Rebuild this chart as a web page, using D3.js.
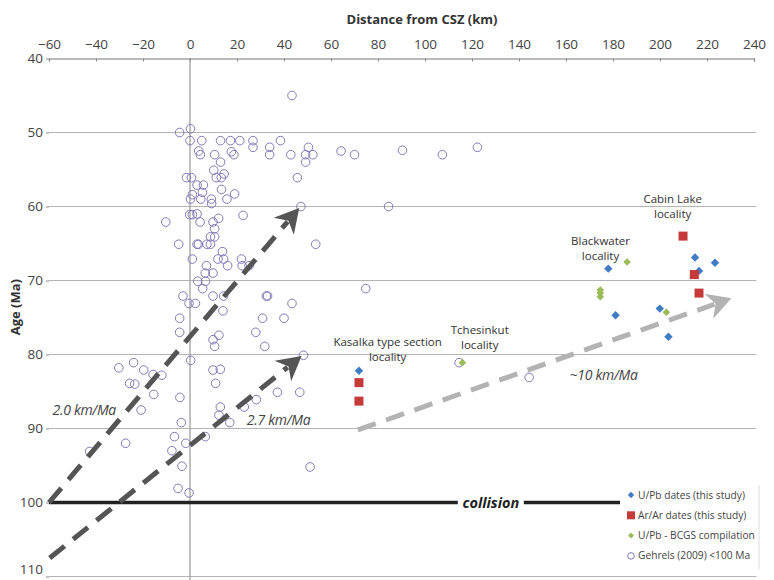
<!DOCTYPE html>
<html>
<head>
<meta charset="utf-8">
<script src="https://cdn.jsdelivr.net/npm/d3@7"></script>
<style>
  body { margin: 0; background: #fff; }
  text { font-family: "Open Sans", "Noto Sans", sans-serif; }
</style>
</head>
<body>
<div id="chart"></div>
<script>
// Gehrels (2009) <100 Ma: [distance km, age Ma]
const gehrels = [
  [43.4, 45.0], [-4.4, 50.0], [0.2, 49.5], [0, 51.1], [5, 51.1], [13, 51.1], [17.2, 51.1],
  [21.2, 51.1], [26.8, 51.1], [26.8, 52.0], [33.9, 52.0], [38.5, 51.1], [33.9, 53.0],
  [42.9, 53.0], [50.4, 52.0], [49.2, 53.0], [52.3, 53.0], [49.2, 54.0], [45.7, 56.1],
  [64.3, 52.5], [70, 53.0], [90.4, 52.4], [107.4, 53.0], [122.3, 52.0], [3.7, 52.5],
  [4.4, 53.0], [10.5, 53.0], [13, 54.0], [17.6, 52.6], [18.7, 53.0], [10.1, 55.1],
  [-1.5, 56.1], [0.6, 56.1], [11.2, 56.1], [13.3, 56.1], [14.5, 55.6], [3, 57.1],
  [5.7, 57.1], [5.3, 58.1], [1, 58.4], [0.2, 59.0], [4.6, 59.0], [9.1, 59.0], [9.2, 59.6],
  [13.4, 57.7], [15.7, 59.0], [19, 58.3], [-0.1, 61.1], [1, 61.1], [3, 61.0], [4.3, 62.1],
  [9.8, 62.1], [12.2, 61.6], [22.6, 61.2], [-10.3, 62.1], [10.5, 63.0], [8.7, 64.1],
  [10.5, 64.1], [-4.8, 65.1], [3, 65.1], [3.6, 65.1], [7.2, 65.1], [8.7, 65.1], [53.5, 65.1],
  [13.8, 66.1], [11.9, 67.1], [14.3, 67.1], [1, 67.1], [7, 68.0], [16, 68.0], [21.9, 67.1],
  [22.2, 68.0], [25.1, 68.0], [6.5, 69.0], [9.8, 69.0], [3.3, 70.1], [6.6, 70.1], [5.4, 71.1],
  [-3, 72.1], [-0.4, 73.1], [2.3, 73.1], [9.8, 72.1], [14.3, 72.1], [32.5, 72.1], [33, 72.1],
  [43.4, 73.1], [14, 74.1], [-4.4, 75.1], [30.9, 75.1], [40, 75.1], [-4.4, 77.0], [28, 77.0],
  [74.8, 71.1], [47.2, 60.0], [84.5, 60.0], [9.8, 78.0], [12.3, 77.4], [10.5, 78.9],
  [31.8, 78.9], [48.3, 80.1], [0.3, 80.8], [-30.3, 81.8], [-24, 81.1], [-19.7, 82.1],
  [-15.7, 82.7], [-12, 82.8], [-25.7, 83.9], [-23.5, 84.0], [-15.4, 85.4], [9.8, 82.1],
  [12.9, 82.0], [10.9, 83.9], [-4.3, 85.8], [37.2, 85.1], [46.7, 85.1], [28.2, 86.1],
  [12.9, 87.1], [23.1, 87.1], [-20.8, 87.5], [12.3, 88.2], [16.9, 89.2], [-3.7, 89.2],
  [-6.6, 91.1], [6.5, 91.1], [-27.4, 92.0], [-1.8, 92.0], [-42.7, 93.1], [-7.7, 93.0],
  [-3.4, 95.1], [51.1, 95.2], [-5.1, 98.1], [-0.4, 98.7], [114.5, 81.1], [144.3, 83.1]
];
// U/Pb dates (this study)
const upbStudy = [
  [71.9, 82.2], [178, 68.4], [181.1, 74.7], [214.9, 66.9], [216.6, 68.7], [223.4, 67.6],
  [199.9, 73.8], [203.6, 77.6]
];
// Ar/Ar dates (this study)
const arArStudy = [[71.9, 83.8], [71.9, 86.3], [209.8, 64.0], [214.6, 69.2], [216.6, 71.7]];
// U/Pb - BCGS compilation
const upbBcgs = [[186, 67.5], [174.6, 71.3], [174.6, 71.7], [174.6, 72.2], [202.7, 74.3], [115.9, 81.1]];

const xTicks = d3.range(-60, 241, 20);
const yTicks = d3.range(40, 111, 10);

// migration arrows: start / end in data units
const arrows = [
  {from: [-60, 100], to: [46.5, 60.2], color: "#555", label: "2.0 km/Ma", at: [-45, 87.5]},
  {from: [-59.7, 107.5], to: [47.5, 80.2], color: "#555", label: "2.7 km/Ma", at: [37.7, 88.85]},
  {from: [71.4, 90.2], to: [230.4, 72.4], color: "#b3b3b3", label: "~10 km/Ma", at: [176, 82.8]}
];

const localities = [
  {lines: ["Kasalka type section", "locality"], at: [84.1, 78.9]},
  {lines: ["Tchesinkut", "locality"], at: [123.3, 77.2]},
  {lines: ["Blackwater", "locality"], at: [174.7, 65.2]},
  {lines: ["Cabin Lake", "locality"], at: [205.4, 59.5]}
];

const legendItems = [
  {label: "U/Pb dates (this study)", type: "blue"},
  {label: "Ar/Ar dates (this study)", type: "red"},
  {label: "U/Pb - BCGS compilation", type: "green"},
  {label: "Gehrels (2009) <100 Ma", type: "circle"}
];

const width = 774, height = 580;
const svg = d3.select("#chart").append("svg")
  .attr("width", width).attr("height", height);

const x = d3.scaleLinear().domain([-60, 240]).range([49, 754]);
const y = d3.scaleLinear().domain([40, 110]).range([58.5, 576.5]);

// Horizontal gridlines
svg.append("g").selectAll("line")
  .data(yTicks.filter(d => d > 40 && d !== 100))
  .enter().append("line")
  .attr("x1", x(-60)).attr("x2", x(241))
  .attr("y1", d => y(d)).attr("y2", d => y(d))
  .attr("stroke", "#b4b4b4").attr("stroke-width", 1.2);

// Vertical line at 0 km
svg.append("line")
  .attr("x1", x(0)).attr("x2", x(0))
  .attr("y1", y(40)).attr("y2", height)
  .attr("stroke", "#a0a0a0").attr("stroke-width", 1.3);

// Top axis
const xAxis = svg.append("g")
  .attr("transform", `translate(0,${y(40)})`)
  .call(d3.axisTop(x).tickValues(xTicks).tickSize(-3).tickPadding(11).tickFormat(d3.format("d")));
xAxis.select(".domain").attr("stroke", "#777").attr("stroke-width", 1.2);
xAxis.selectAll(".tick line").attr("stroke", "#888");
xAxis.selectAll("text").attr("font-size", 13.5).attr("fill", "#444").attr("dy", "0.1em");

// Left axis labels (no axis line)
const yAxis = svg.append("g")
  .attr("transform", `translate(${x(-60)},0)`)
  .call(d3.axisLeft(y).tickValues(yTicks).tickSize(3).tickPadding(3));
yAxis.select(".domain").remove();
yAxis.selectAll(".tick line").attr("stroke", "#888");
yAxis.selectAll("text").attr("font-size", 13.5).attr("fill", "#444");
// bottom label sits on the page edge, lift it a little
yAxis.selectAll(".tick").filter(d => d === 110).select("text").attr("dy", "-0.25em");

svg.append("text")
  .attr("x", 422).attr("y", 24)
  .attr("text-anchor", "middle")
  .attr("font-size", 13).attr("font-weight", "bold").attr("fill", "#333")
  .text("Distance from CSZ (km)");

svg.append("text")
  .attr("transform", `translate(20,${y(73.6)}) rotate(-90)`)
  .attr("text-anchor", "middle")
  .attr("font-size", 13).attr("font-weight", "bold").attr("fill", "#333")
  .text("Age (Ma)");

// Collision line
svg.append("line")
  .attr("x1", x(-60)).attr("x2", x(183))
  .attr("y1", y(100)).attr("y2", y(100))
  .attr("stroke", "#222").attr("stroke-width", 3.5);
const coll = svg.append("g").attr("transform", `translate(${x(128)},${y(100)})`);
coll.append("rect").attr("x", -33).attr("y", -9).attr("width", 66).attr("height", 18).attr("fill", "#fff");
coll.append("text")
  .attr("text-anchor", "middle").attr("dy", "0.35em")
  .attr("font-size", 14.5).attr("font-weight", "bold").attr("font-style", "italic").attr("fill", "#222")
  .text("collision");

// Gehrels circles
svg.append("g").selectAll("circle")
  .data(gehrels)
  .enter().append("circle")
  .attr("cx", d => x(d[0])).attr("cy", d => y(d[1]))
  .attr("r", 4.3)
  .attr("fill", "none")
  .attr("stroke", "#8479b8").attr("stroke-width", 1);

// Arrows
function arrowHead(size) {
  // stealth-style head pointing along +x, tip at origin
  return `M0,0 L${-size},${-size * 0.55} L${-size * 0.7},0 L${-size},${size * 0.55} Z`;
}
arrows.forEach(a => {
  const x1 = x(a.from[0]), y1 = y(a.from[1]);
  const x2 = x(a.to[0]), y2 = y(a.to[1]);
  const ang = Math.atan2(y2 - y1, x2 - x1);
  const headLen = 24;
  const ex = x2 - Math.cos(ang) * headLen * 0.75;
  const ey = y2 - Math.sin(ang) * headLen * 0.75;
  svg.append("line")
    .attr("x1", x1).attr("y1", y1).attr("x2", ex).attr("y2", ey)
    .attr("stroke", a.color).attr("stroke-width", 5)
    .attr("stroke-dasharray", "19,11");
  svg.append("path")
    .attr("d", arrowHead(headLen))
    .attr("fill", a.color)
    .attr("transform", `translate(${x2},${y2}) rotate(${ang * 180 / Math.PI})`);
  svg.append("text")
    .attr("x", x(a.at[0])).attr("y", y(a.at[1]))
    .attr("text-anchor", "middle").attr("dy", "0.35em")
    .attr("font-size", 14).attr("font-style", "italic").attr("fill", "#444")
    .attr("letter-spacing", -0.3)
    .text(a.label);
});

// Locality labels
localities.forEach(l => {
  const t = svg.append("text")
    .attr("x", x(l.at[0])).attr("y", y(l.at[1]))
    .attr("text-anchor", "middle")
    .attr("font-size", 11.5).attr("fill", "#333");
  l.lines.forEach((s, i) => {
    t.append("tspan").attr("x", x(l.at[0])).attr("dy", i === 0 ? 0 : 15).text(s);
  });
});

// Markers of this study
const diamond = s => `M0,${-s} L${s},0 L0,${s} L${-s},0 Z`;
svg.append("g").selectAll("path")
  .data(upbBcgs)
  .enter().append("path")
  .attr("d", diamond(3.8))
  .attr("transform", d => `translate(${x(d[0])},${y(d[1])})`)
  .attr("fill", "#9bbb59");
svg.append("g").selectAll("path")
  .data(upbStudy)
  .enter().append("path")
  .attr("d", diamond(4.2))
  .attr("transform", d => `translate(${x(d[0])},${y(d[1])})`)
  .attr("fill", "#3f7cc4");
svg.append("g").selectAll("rect")
  .data(arArStudy)
  .enter().append("rect")
  .attr("x", d => x(d[0]) - 4.5).attr("y", d => y(d[1]) - 4.5)
  .attr("width", 9).attr("height", 9)
  .attr("fill", "#c63a3a");

// Legend
const legend = svg.append("g").attr("transform", "translate(631,495)");
legend.append("line")
  .attr("x1", 128).attr("x2", 128).attr("y1", -10).attr("y2", 74)
  .attr("stroke", "#ddd");
const li = legend.selectAll("g")
  .data(legendItems)
  .enter().append("g")
  .attr("transform", (d, i) => `translate(0,${i * 20.3})`);
li.each(function(d) {
  const g = d3.select(this);
  if (d.type === "blue") g.append("path").attr("d", diamond(3.2)).attr("fill", "#3f7cc4");
  if (d.type === "green") g.append("path").attr("d", diamond(3)).attr("fill", "#9bbb59");
  if (d.type === "red") g.append("rect").attr("x", -4).attr("y", -4).attr("width", 8).attr("height", 8).attr("fill", "#c63a3a");
  if (d.type === "circle") g.append("circle").attr("r", 3.3).attr("fill", "none").attr("stroke", "#8479b8");
});
li.append("text")
  .attr("x", 7).attr("dy", "0.35em")
  .attr("font-size", 10.2).attr("fill", "#444")
  .text(d => d.label);
</script>
</body>
</html>
